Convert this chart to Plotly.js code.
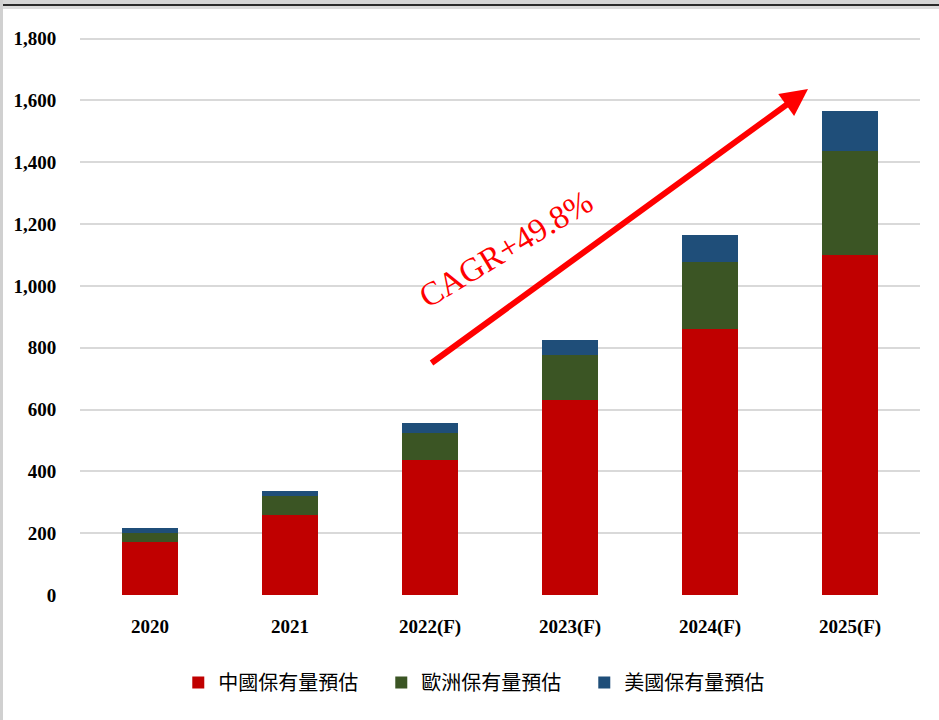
<!DOCTYPE html>
<html>
<head>
<meta charset="utf-8">
<script src="https://cdn.plot.ly/plotly-3.0.1.min.js"></script>
<style>
html,body{margin:0;padding:0;background:#fff;}
#chart{position:absolute;left:0;top:0;width:939px;height:720px;}
.fr{position:absolute;z-index:5;}
</style>
</head>
<body>
<div id="chart"></div>
<div class="fr" style="left:0;top:0;width:939px;height:4px;background:#d6d6d6;"></div>
<div class="fr" style="left:0;top:4px;width:939px;height:2px;background:#2b2b2b;"></div>
<div class="fr" style="left:0;top:6px;width:939px;height:3px;background:#dcdcdc;"></div>
<div class="fr" style="left:0;top:0;width:3px;height:720px;background:#d0d0d0;"></div>
<script>
const categories = ["2020", "2021", "2022(F)", "2023(F)", "2024(F)", "2025(F)"];
const chinaValues = [170, 260, 436, 632, 861, 1100];
const europeValues = [32, 61, 88, 145, 217, 336];
const usValues = [14, 17, 31, 48, 85, 129];
const seriesNames = ["中國保有量預估", "歐洲保有量預估", "美國保有量預估"];
const yTickValues = [0, 200, 400, 600, 800, 1000, 1200, 1400, 1600, 1800];
const yTickLabels = ["0", "200", "400", "600", "800", "1,000", "1,200", "1,400", "1,600", "1,800"];
const cagrLabel = "CAGR+49.8%";

const colors = ["#C00000", "#3B5524", "#1F4E79"];
const allValues = [chinaValues, europeValues, usValues];

const traces = allValues.map((vals, i) => ({
  type: "bar",
  x: categories,
  y: vals,
  name: seriesNames[i],
  marker: {color: colors[i], line: {width: 0}},
  hoverinfo: "skip"
}));

const tickFont = {family: "Liberation Serif, Times New Roman, serif", size: 19, color: "#000", weight: 700};

const layout = {
  width: 939,
  height: 720,
  margin: {l: 80, r: 19, t: 37, b: 125, pad: 0},
  paper_bgcolor: "#ffffff",
  plot_bgcolor: "#ffffff",
  barmode: "stack",
  bargap: 0.595,
  showlegend: true,
  legend: {
    orientation: "h",
    x: 0.117,
    xanchor: "left",
    y: -0.157,
    yanchor: "middle",
    entrywidth: 158,
    entrywidthmode: "pixels",
    traceorder: "normal",
    font: {family: "Noto Sans CJK TC, sans-serif", size: 20, color: "#000"}
  },
  xaxis: {
    type: "category",
    tickfont: tickFont,
    ticks: "outside",
    ticklen: 14,
    tickcolor: "rgba(0,0,0,0)",
    showgrid: false,
    showline: false,
    zeroline: false
  },
  yaxis: {
    range: [0, 1805],
    tickvals: yTickValues,
    ticktext: yTickLabels,
    tickfont: tickFont,
    ticks: "outside",
    ticklen: 19,
    tickcolor: "rgba(0,0,0,0)",
    showgrid: true,
    gridcolor: "#d9d9d9",
    gridwidth: 2,
    zeroline: false,
    showline: false
  },
  annotations: [
    {
      xref: "paper", yref: "paper",
      x: 0.8667, y: 0.9066,
      axref: "pixel", ayref: "pixel",
      ax: -378, ay: 275,
      text: "",
      showarrow: true,
      arrowhead: 2,
      arrowsize: 0.9,
      arrowwidth: 6,
      arrowcolor: "#FF0000",
      standoff: 0
    },
    {
      xref: "paper", yref: "paper",
      x: 0.507, y: 0.620,
      text: cagrLabel,
      showarrow: false,
      textangle: -31,
      font: {family: "Liberation Serif, Times New Roman, serif", size: 33, color: "#FF0000"}
    }
  ]
};

Plotly.newPlot("chart", traces, layout, {displayModeBar: false, staticPlot: true});
</script>
</body>
</html>
